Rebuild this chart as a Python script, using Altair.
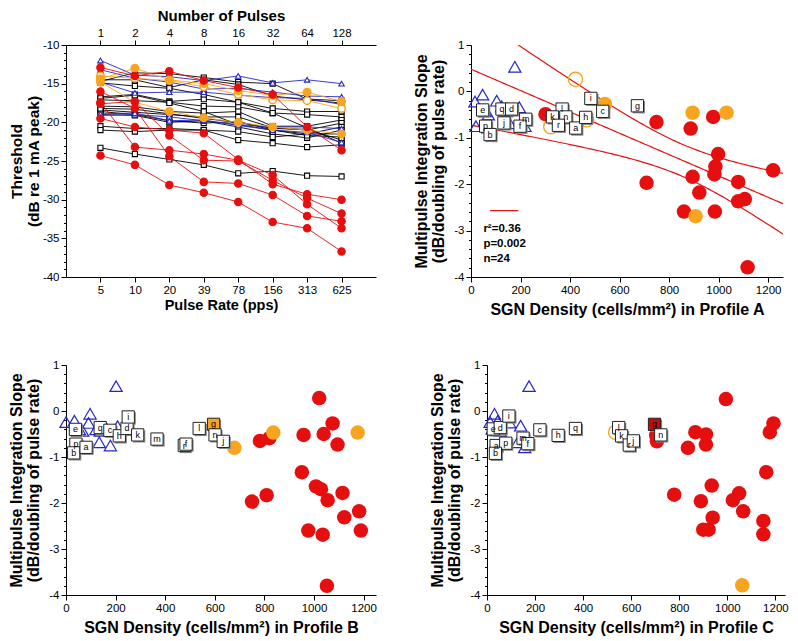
import altair as alt
import numpy as np
import pandas as pd

FONT = "Liberation Sans"
RED = "#e60f0f"
ORANGE = "#f8a41f"
BLUE = "#2626c8"
DARKRED = "#c40a0a"

# ---------------- Panel 1: threshold vs pulse rate ----------------
pulse_rates = ["5", "10", "20", "39", "78", "156", "313", "625"]
pulse_counts = ["1", "2", "4", "8", "16", "32", "64", "128"]

black_series = [
    [-14.7, -13.6, -13.7, -14.2, -14.8, -15.0, -17.0, -17.2],
    [-14.5, -14.5, -15.5, -14.5, -15.1, -16.6, -17.1, -17.5],
    [-16.7, -16.4, -17.3, -17.0, -17.4, -18.2, -18.6, -18.6],
    [-17.1, -17.2, -17.4, -17.9, -18.0, -18.8, -19.0, -19.3],
    [-17.9, -18.0, -18.6, -18.8, -18.6, -20.5, -20.5, -19.7],
    [-18.4, -18.7, -19.0, -19.3, -19.3, -20.7, -21.0, -20.1],
    [-18.6, -19.0, -19.8, -20.1, -19.9, -21.0, -21.5, -20.6],
    [-19.0, -19.1, -20.0, -19.8, -20.6, -21.5, -22.0, -21.0],
    [-20.5, -20.8, -20.8, -21.0, -21.2, -21.9, -21.5, -21.5],
    [-21.0, -21.2, -21.0, -21.0, -22.3, -22.7, -23.2, -22.9],
    [-16.9, -16.5, -17.5, -18.6, -20.3, -21.0, -21.7, -21.9],
    [-18.2, -18.3, -18.9, -19.5, -20.0, -20.8, -20.9, -22.3],
    [-23.3, -24.1, -24.8, -25.5, -26.6, -26.3, -26.9, -27.0],
    [-14.9, -15.3, -15.6, -16.4, -17.4, -18.8, -20.7, -22.7],
]
blue_series = [
    [-12.0, -13.9, -14.1, -14.6, -14.0, -14.9, -14.5, -15.0],
    [-13.2, -14.3, -14.8, -15.7, -15.6, -16.1, -16.6, -16.7],
    [-14.8, -16.2, -16.1, -16.1, -16.5, -16.8, -16.9, -17.7],
    [-19.1, -19.0, -19.3, -19.8, -20.3, -20.6, -20.6, -20.8],
    [-18.9, -18.8, -19.8, -19.7, -20.4, -21.0, -21.3, -22.6],
]
orange_series = [
    [-14.0, -14.3, -14.6, -15.4, -16.4, -17.1, -17.2, -18.2],
    [-14.4, -13.0, -14.5, -15.0, -15.9, -16.5, -16.1, -17.3],
    [-14.8, -17.4, -18.6, -19.4, -20.0, -20.6, -21.0, -21.5],
]
orange_open_flags = [True, False, False]
red_series = [
    [-12.9, -14.0, -13.4, -14.6, -15.5, -16.4, -20.6, -23.6],
    [-16.0, -18.2, -24.4, -27.7, -27.9, -29.4, -32.1, -32.8],
    [-17.4, -23.2, -23.6, -24.1, -24.9, -26.8, -30.6, -33.7],
    [-17.6, -17.3, -21.7, -24.9, -25.0, -27.5, -29.8, -31.8],
    [-19.5, -20.6, -21.0, -21.4, -24.8, -28.0, -29.3, -30.0],
    [-24.3, -25.5, -28.1, -29.1, -30.3, -32.9, -33.7, -36.7],
]

# ---------------- Panel A (Profile A) ----------------
triA_x = [16, 47, 20, 57, 70, 104, 124, 144, 177, 157, 195, 218]
triA_y = [-0.22, -0.07, -0.75, -0.43, -0.50, -0.20, -0.32, -0.43, 0.53, -0.69, -0.34, -0.75]
labA = ["e", "q", "d", "p", "b", "j", "m", "f", "l", "k", "n", "r", "a", "h", "i", "c", "g"]
labA_x = [47, 125, 164, 59, 77, 133, 221, 198, 368, 329, 383, 353, 423, 463, 484, 532, 672]
labA_y = [-0.40, -0.38, -0.38, -0.75, -0.93, -0.68, -0.60, -0.75, -0.38, -0.55, -0.55, -0.73, -0.79, -0.56, -0.15, -0.43, -0.31]
redA_x = [301, 749, 887, 978, 998, 987, 983, 895, 922, 709, 860, 985, 1079, 1079, 1106, 1220, 1117]
redA_y = [-0.49, -0.66, -0.80, -0.55, -1.35, -1.62, -1.79, -1.84, -2.18, -1.97, -2.59, -2.59, -1.95, -2.37, -2.32, -1.70, -3.79]
orfA_x = [541, 895, 1032, 907]
orfA_y = [-0.27, -0.46, -0.46, -2.69]
oroA_x = [422, 322, 467]
oroA_y = [0.26, -0.76, -0.61]
statsA = ["r\u00b2=0.36", "p=0.002", "n=24"]

# ---------------- Panel B (Profile B) ----------------
triB_x = [0, 34, 54, 67, 97, 91, 121, 138, 134, 202, 179, 208]
triB_y = [-0.24, -0.21, -0.40, -0.43, -0.06, -0.26, -0.40, -0.43, -0.68, 0.54, -0.75, -0.33]
labB = ["e", "p", "b", "a", "q", "c", "h", "d", "i", "k", "m", "r", "f", "l", "g", "n", "j"]
labB_x = [38, 40, 31, 81, 138, 177, 215, 246, 251, 289, 367, 477, 484, 537, 595, 601, 634]
labB_y = [-0.40, -0.72, -0.91, -0.79, -0.36, -0.42, -0.54, -0.38, -0.13, -0.52, -0.61, -0.75, -0.72, -0.38, -0.29, -0.52, -0.66]
labB_fill = ["white"] * 14 + [ORANGE, "white", "white"]
redB_x = [1021, 1075, 1039, 958, 1095, 782, 820, 951, 1008, 1028, 1055, 1115, 809, 750, 1122, 1182, 977, 1035, 1189, 1052]
redB_y = [0.28, -0.27, -0.50, -0.52, -0.73, -0.65, -0.59, -1.33, -1.64, -1.70, -1.94, -1.78, -1.83, -1.97, -2.31, -2.18, -2.60, -2.69, -2.60, -3.80]
orfB_x = [679, 836, 1176]
orfB_y = [-0.80, -0.47, -0.47]

# ---------------- Panel C (Profile C) ----------------
triC_x = [13, 31, 44, 22, 55, 94, 140, 175, 127, 157]
triC_y = [-0.24, -0.06, -0.22, -0.39, -0.43, -0.25, -0.32, 0.54, -0.68, -0.79]
labC = ["e", "d", "i", "c", "h", "q", "a", "p", "b", "m", "f", "l", "k", "r", "j", "g", "n"]
labC_x = [26, 55, 91, 220, 296, 368, 38, 78, 35, 150, 170, 548, 560, 592, 609, 697, 723]
labC_y = [-0.39, -0.36, -0.11, -0.41, -0.53, -0.38, -0.75, -0.70, -0.92, -0.59, -0.71, -0.36, -0.54, -0.74, -0.65, -0.29, -0.52]
labC_fill = ["white"] * 15 + [DARKRED, "white"]
redC_x = [704, 707, 994, 867, 911, 911, 836, 1192, 1177, 1162, 779, 935, 890, 1023, 1049, 1066, 939, 900, 922, 1150, 1150]
redC_y = [-0.53, -0.66, 0.26, -0.46, -0.51, -0.73, -0.80, -0.27, -0.46, -1.33, -1.82, -1.62, -1.96, -1.94, -1.79, -2.18, -2.32, -2.58, -2.58, -2.39, -2.68]
orfC_x = [1062]
orfC_y = [-3.79]
oroC_x = [535]
oroC_y = [-0.46]

TITLE_LINES_Y = ["Multipulse Integration Slope", "(dB/doubling of pulse rate)"]

# ---------------- helpers ----------------
def series_df(series, prefix):
    rows = []
    for k, vals in enumerate(series):
        for i, v in enumerate(vals):
            rows.append({"s": f"{prefix}{k}", "i": i, "v": v})
    return pd.DataFrame(rows)


def list_expr(labels):
    return "[" + ",".join("'" + l + "'" for l in labels) + "][datum.value]"


H1 = 232
H2 = 230
W_TL = 310

xscale_tl = alt.Scale(domain=[-1, 8], nice=False, zero=False)
x_bottom = alt.X("i:Q", scale=xscale_tl, axis=alt.Axis(
    orient="bottom", values=list(range(8)), labelExpr=list_expr(pulse_rates),
    title="Pulse Rate (pps)", titleFontSize=14.5, titlePadding=3, labelOverlap=False))
x_top = alt.X("i:Q", scale=xscale_tl, axis=alt.Axis(
    orient="top", values=list(range(8)), labelExpr=list_expr(pulse_counts),
    title="Number of Pulses", titleFontSize=15, titlePadding=4, labelOverlap=False))
x_none = alt.X("i:Q", scale=xscale_tl, axis=None)
y_tl = alt.Y("v:Q", scale=alt.Scale(domain=[-40, -10], nice=False, zero=False), axis=alt.Axis(
    values=list(range(-40, -9)),
    labelExpr="datum.value % 5 == 0 ? '' + datum.value : ''",
    tickSize={"condition": {"test": "datum.value % 5 == 0", "value": 5}, "value": 2.5},
    title=["Threshold", "(dB re 1 mA peak)"], titleFontSize=15.5, titleLineHeight=17,
    minExtent=21, maxExtent=21, titlePadding=4, labelOverlap=False))

groups = [
    ("k", black_series, "black", "square", "white", 26),
    ("b", blue_series, BLUE, "triangle-up", "white", 30),
    ("r", red_series, RED, "circle", RED, 55),
]

tl_layers = []
first = True
for prefix, series, col, shape, fill, size in groups:
    d = series_df(series, prefix)
    xl = x_bottom if first else x_none
    xp = x_top if first else x_none
    first = False
    tl_layers.append(alt.Chart(d).mark_line(color=col, strokeWidth=0.9).encode(
        x=xl, y=y_tl, detail="s:N"))
    tl_layers.append(alt.Chart(d).mark_point(
        shape=shape, filled=True, fill=fill, stroke=col, strokeWidth=1.1,
        size=size, opacity=1).encode(x=xp, y=y_tl, detail="s:N"))
    if prefix == "b":
        # orange series drawn between blue and red
        for k, vals in enumerate(orange_series):
            d2 = series_df([vals], f"o{k}")
            tl_layers.append(alt.Chart(d2).mark_line(color=ORANGE, strokeWidth=0.9).encode(
                x=x_none, y=y_tl, detail="s:N"))
            tl_layers.append(alt.Chart(d2).mark_point(
                shape="circle", filled=True,
                fill="white" if orange_open_flags[k] else ORANGE,
                stroke=ORANGE, strokeWidth=1.6, size=55, opacity=1).encode(
                x=x_none, y=y_tl, detail="s:N"))

tl = alt.layer(*tl_layers).resolve_axis(x="independent").properties(width=W_TL, height=H1)


# ---------------- scatter panel builder ----------------
def scatter_panel(title, width, height, xmax, tri, red, orf, oro, labs, regression=False, stats=None):
    xs = alt.X("x:Q", scale=alt.Scale(domain=[0, xmax], nice=False, zero=False), axis=alt.Axis(
        values=list(range(0, 1201, 200)), format="d", title=title, titleFontSize=16, titlePadding=6,
        labelOverlap=False))
    yvals = [round(v, 1) for v in np.arange(-4.0, 1.0001, 0.2)]
    ys = alt.Y("y:Q", scale=alt.Scale(domain=[-4, 1], nice=False, zero=False), axis=alt.Axis(
        values=yvals,
        labelExpr="abs(datum.value - round(datum.value)) < 0.001 ? '' + round(datum.value) : ''",
        tickSize={"condition": {"test": "abs(datum.value - round(datum.value)) < 0.001", "value": 5},
                  "value": 2.5},
        title=TITLE_LINES_Y, titleFontSize=16, titleLineHeight=17,
        minExtent=21, maxExtent=21, titlePadding=4, labelOverlap=False))
    layers = []
    if regression:
        rx = np.array(red[0] + orf[0] + oro[0], dtype=float)
        ry = np.array(red[1] + orf[1] + oro[1], dtype=float)
        n = len(rx)
        slope, icpt = np.polyfit(rx, ry, 1)
        resid = ry - (icpt + slope * rx)
        s = np.sqrt((resid ** 2).sum() / (n - 2))
        xm = rx.mean()
        sxx = ((rx - xm) ** 2).sum()
        tval = 2.074
        grid = np.linspace(0, xmax, 127)
        fit = icpt + slope * grid
        hw = tval * s * np.sqrt(1.0 / n + (grid - xm) ** 2 / sxx)
        rd = pd.concat([
            pd.DataFrame({"x": grid, "y": fit, "c": "fit"}),
            pd.DataFrame({"x": grid, "y": fit + hw, "c": "hi"}),
            pd.DataFrame({"x": grid, "y": fit - hw, "c": "lo"}),
        ])
        layers.append(alt.Chart(rd).mark_line(color=RED, strokeWidth=1.2, clip=True).encode(
            x=xs, y=ys, detail="c:N"))
    layers.append(alt.Chart(pd.DataFrame({"x": tri[0], "y": tri[1]})).mark_point(
        shape="triangle-up", filled=False, stroke=BLUE, strokeWidth=1.2, size=150, opacity=1).encode(x=xs, y=ys))
    layers.append(alt.Chart(pd.DataFrame({"x": red[0], "y": red[1]})).mark_circle(
        color=RED, size=210, opacity=1).encode(x=xs, y=ys))
    layers.append(alt.Chart(pd.DataFrame({"x": orf[0], "y": orf[1]})).mark_circle(
        color=ORANGE, size=210, opacity=1).encode(x=xs, y=ys))
    if oro is not None and len(oro[0]):
        layers.append(alt.Chart(pd.DataFrame({"x": oro[0], "y": oro[1]})).mark_point(
            shape="circle", filled=False, stroke=ORANGE, strokeWidth=1.4, size=200, opacity=1).encode(x=xs, y=ys))
    ld = pd.DataFrame({"lab": labs[0], "x": labs[1], "y": labs[2], "fill": labs[3]})
    layers.append(alt.Chart(ld).mark_square(size=150, color="#8a8a8a", opacity=1, xOffset=1.5, yOffset=1.5).encode(
        x=xs, y=ys))
    layers.append(alt.Chart(ld).mark_square(size=150, stroke="#222222", strokeWidth=1, opacity=1).encode(
        x=xs, y=ys, fill=alt.Fill("fill:N", scale=None)))
    layers.append(alt.Chart(ld).mark_text(fontSize=9, font=FONT, color="black").encode(
        x=xs, y=ys, text="lab:N"))
    if stats:
        key = pd.DataFrame({"x": [77], "x2": [191], "y": [-2.57]})
        layers.append(alt.Chart(key).mark_rule(color=RED, strokeWidth=1.2).encode(
            x=xs, x2="x2:Q", y=ys))
        sd = pd.DataFrame({"x": [50, 50, 50], "y": [-2.96, -3.29, -3.61], "t": stats})
        layers.append(alt.Chart(sd).mark_text(
            align="left", baseline="middle", fontSize=11.5, fontWeight="bold", font=FONT,
            color="black").encode(x=xs, y=ys, text="t:N"))
    return alt.layer(*layers).properties(width=width, height=height)


trA = scatter_panel("SGN Density (cells/mm\u00b2) in Profile A", 312, H1, 1260,
                    (triA_x, triA_y), (redA_x, redA_y), (orfA_x, orfA_y), (oroA_x, oroA_y),
                    (labA, labA_x, labA_y, ["white"] * len(labA)), regression=True, stats=statsA)
blB = scatter_panel("SGN Density (cells/mm\u00b2) in Profile B", 310, H2, 1250,
                    (triB_x, triB_y), (redB_x, redB_y), (orfB_x, orfB_y), None,
                    (labB, labB_x, labB_y, labB_fill))
brC = scatter_panel("SGN Density (cells/mm\u00b2) in Profile C", 298, H2, 1240,
                    (triC_x, triC_y), (redC_x, redC_y), (orfC_x, orfC_y), (oroC_x, oroC_y),
                    (labC, labC_x, labC_y, labC_fill))

top = alt.hconcat(tl, trA, spacing=37)
bottom = alt.hconcat(blB, brC, spacing=52)
chart = alt.vconcat(top, bottom, spacing=41, padding=0).configure(
    font=FONT
).configure_view(stroke=None).configure_axis(
    grid=False, domainColor="black", tickColor="black", labelColor="black", titleColor="black",
    labelFont=FONT, titleFont=FONT, labelFontSize=11.5, titleFontWeight="bold",
    labelPadding=2, domainWidth=1, tickWidth=1, labelFlush=False
)

chart.save("out.html", embed_options={"renderer": "svg", "actions": False})
